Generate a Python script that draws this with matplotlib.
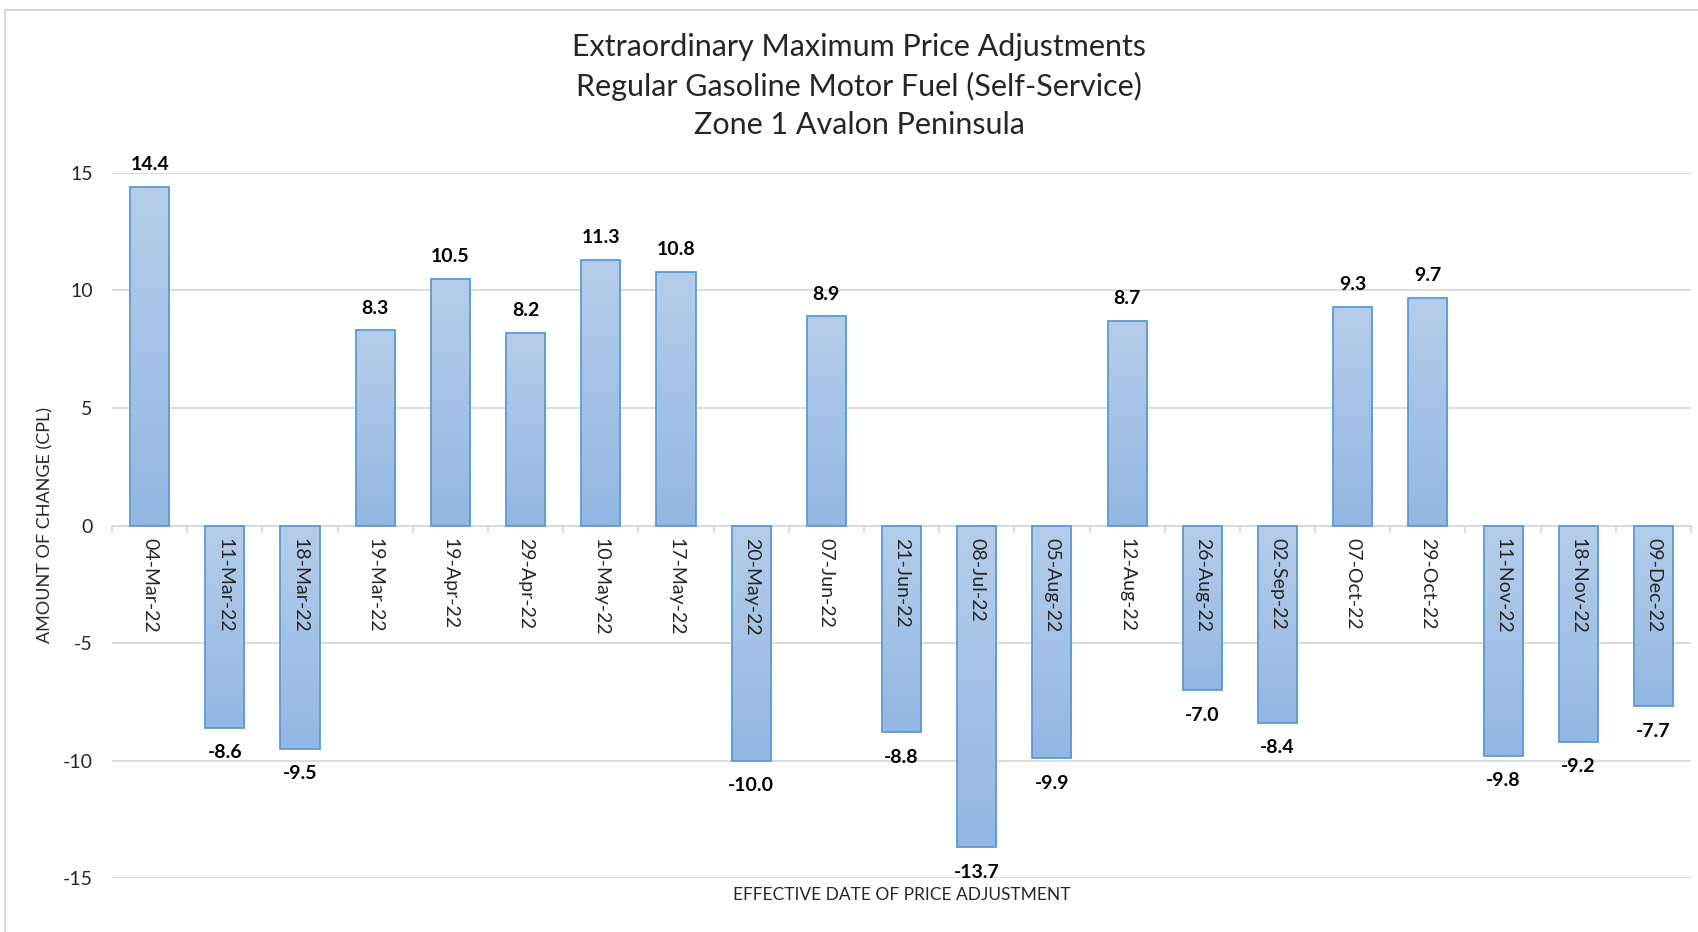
import matplotlib
matplotlib.use('Agg')

import matplotlib.pyplot as plt
import numpy as np
from matplotlib.lines import Line2D
from matplotlib.colors import LinearSegmentedColormap

#=====Data=====
dates = ['04-Mar-22', '11-Mar-22', '18-Mar-22', '19-Mar-22', '19-Apr-22', '29-Apr-22',
         '10-May-22', '17-May-22', '20-May-22', '07-Jun-22', '21-Jun-22', '08-Jul-22',
         '05-Aug-22', '12-Aug-22', '26-Aug-22', '02-Sep-22', '07-Oct-22', '29-Oct-22',
         '11-Nov-22', '18-Nov-22', '09-Dec-22']
changes = [14.4, -8.6, -9.5, 8.3, 10.5, 8.2, 11.3, 10.8, -10.0, 8.9, -8.8, -13.7,
           -9.9, 8.7, -7.0, -8.4, 9.3, 9.7, -9.8, -9.2, -7.7]
title_lines = ['Extraordinary Maximum Price Adjustments',
               'Regular Gasoline Motor Fuel (Self-Service)',
               'Zone 1 Avalon Peninsula']
y_ticks = [-15, -10, -5, 0, 5, 10, 15]
#==============

plt.rcParams['font.family'] = ['Lato', 'DejaVu Sans']
plt.rcParams['axes.unicode_minus'] = False

GRID = '#d9d9d9'
EDGE = '#5b9bd5'
TEXT = '#262626'

fig = plt.figure(figsize=(16.98, 9.32), dpi=100)
ax = fig.add_axes([0.066, 0.0579, 0.9299, 0.7565])

x = np.arange(len(dates))
bars = ax.bar(x, changes, width=0.52, facecolor='none', edgecolor=EDGE,
              linewidth=1.3, zorder=3)

# vertical gradient inside each bar, light on top, darker at bottom
grad_cmap = LinearSegmentedColormap.from_list('bargrad', ['#b5cdea', '#93b7e3'])
grad = np.linspace(0, 1, 256).reshape(-1, 1)
for b in bars:
    x0, y0 = b.get_x(), b.get_y()
    w, h = b.get_width(), b.get_height()
    lo, hi = min(y0, y0 + h), max(y0, y0 + h)
    im = ax.imshow(grad, cmap=grad_cmap, aspect='auto', origin='upper',
                   extent=(x0, x0 + w, lo, hi), zorder=2)
    im.set_clip_path(b)

# data labels
for xi, v in zip(x, changes):
    off = 16 if v >= 0 else -18
    ax.annotate(f'{v:.1f}', (xi, v), xytext=(0, off), textcoords='offset points',
                ha='center', va='center', fontsize=14, fontweight='bold', color='black')

ax.set_xlim(-0.5, len(dates) - 0.5)
ax.set_ylim(-15, 15)

# gridlines drawn behind the bars
for yt in y_ticks:
    ax.axhline(yt, color=GRID, linewidth=1.3, zorder=0.5)

# axes styling (Excel look)
for s in ['top', 'right', 'left']:
    ax.spines[s].set_visible(False)
ax.spines['bottom'].set_position(('data', 0))
ax.spines['bottom'].set_color(GRID)
ax.spines['bottom'].set_linewidth(1.3)
ax.spines['bottom'].set_zorder(1)

ax.set_yticks(y_ticks)
ax.tick_params(axis='y', length=0, pad=14, labelsize=14, labelcolor=TEXT)

ax.set_xticks(np.arange(-0.5, len(dates), 1))
ax.set_xticklabels([])
ax.tick_params(axis='x', which='major', length=5, width=1.3, color=GRID, direction='out')
ax.set_xticks(x, minor=True)
ax.set_xticklabels(dates, minor=True, rotation=-90, fontsize=14, color=TEXT)
ax.tick_params(axis='x', which='minor', length=0, pad=9)
# date labels sit on top of the bars
ax.xaxis.set_zorder(5)

# titles and axis labels
for txt, yy in zip(title_lines, [0.950, 0.907, 0.866]):
    fig.text(0.506, yy, txt, ha='center', va='center', fontsize=22, color=TEXT)
fig.text(0.027, 0.437, 'AMOUNT OF CHANGE (CPL)', rotation=90, ha='center', va='center',
         fontsize=13, color=TEXT)
fig.text(0.531, 0.040, 'EFFECTIVE DATE OF PRICE ADJUSTMENT', ha='center', va='center',
         fontsize=12.5, color=TEXT)

# chart area border (only top and left visible in the crop)
fig.add_artist(Line2D([5 / 1698, 5 / 1698], [0, 1 - 10 / 932], transform=fig.transFigure,
                      color=GRID, linewidth=1.5))
fig.add_artist(Line2D([5 / 1698, 1], [1 - 10 / 932, 1 - 10 / 932], transform=fig.transFigure,
                      color=GRID, linewidth=1.5))

plt.savefig('out.png', dpi=100)
